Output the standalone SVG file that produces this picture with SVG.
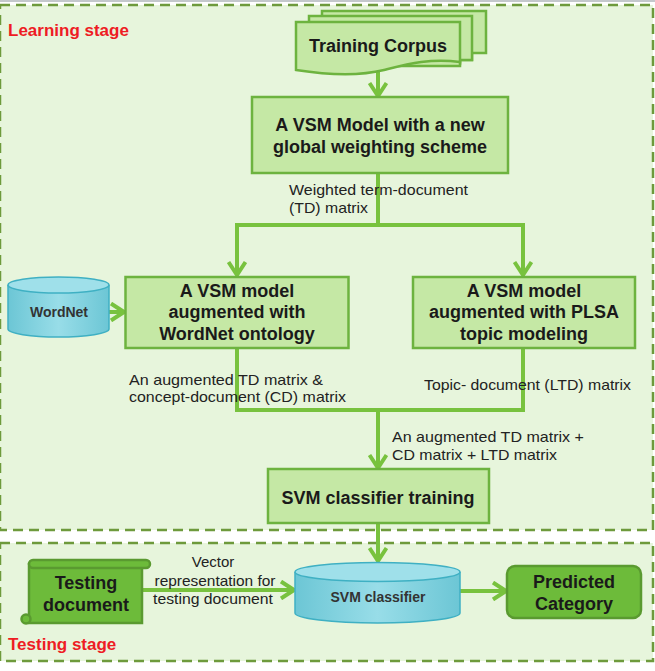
<svg xmlns="http://www.w3.org/2000/svg" width="655" height="671" viewBox="0 0 655 671">
<defs>
<style>
.stage{fill:#e7f5dc;stroke:#6e9a3c;stroke-width:2.5;stroke-dasharray:10 6}
.stagelbl{font-family:"Liberation Sans",Arial,sans-serif;font-weight:bold;font-size:17px;fill:#ee1c24}
.box{fill:#c5e8a5;stroke:#6db33f;stroke-width:2.5}
.dbox{fill:#6dbb3a;stroke:#5a9a30;stroke-width:2.5}
.bt{font-family:"Liberation Sans",Arial,sans-serif;font-weight:bold;font-size:18px;fill:#1a1a1a;text-anchor:middle}
.lbl{font-family:"Liberation Sans",Arial,sans-serif;font-size:15px;fill:#222}
.cyl{fill:url(#cg);stroke:#3fb0c3;stroke-width:1.5}
.cyltop{fill:#9fe0ea;stroke:#3fb0c3;stroke-width:1.5}
.ct{font-family:"Liberation Sans",Arial,sans-serif;font-weight:bold;font-size:14px;fill:#333;text-anchor:middle}
.conn{fill:none;stroke:#78c23e;stroke-width:4}
</style>
<linearGradient id="cg" x1="0" y1="0" x2="1" y2="0">
<stop offset="0" stop-color="#6cc6d5"/>
<stop offset="0.5" stop-color="#98dde8"/>
<stop offset="1" stop-color="#6cc6d5"/>
</linearGradient>
<marker id="ah" viewBox="0 0 20 20" refX="17" refY="10" markerWidth="20" markerHeight="20" markerUnits="userSpaceOnUse" orient="auto">
<path d="M4,1.5 L17,10 L4,18.5" fill="none" stroke="#78c23e" stroke-width="4"/>
</marker>
</defs>
<rect x="0" y="0" width="655" height="2" fill="#c4c8cc"/>
<g id="learning-stage">
<rect class="stage" x="0" y="5" width="653" height="525"/>
<text class="stagelbl" x="8" y="36">Learning stage</text>
</g>
<g id="testing-stage">
<rect class="stage" x="0" y="543" width="653" height="118"/>
<text class="stagelbl" x="8" y="650">Testing stage</text>
</g>
<g id="connectors">
<path class="conn" d="M378,70 V96" marker-end="url(#ah)"/>
<path class="conn" d="M378,173 V225"/>
<path class="conn" d="M380,225 H237 V275" marker-end="url(#ah)"/>
<path class="conn" d="M376,225 H523 V275" marker-end="url(#ah)"/>
<path class="conn" d="M109,312 H124" marker-end="url(#ah)"/>
<path class="conn" d="M237,348 V410 H380"/>
<path class="conn" d="M523,348 V410 H376"/>
<path class="conn" d="M378,410 V468" marker-end="url(#ah)"/>
<path class="conn" d="M378,523 V561" marker-end="url(#ah)"/>
<path class="conn" d="M142,590 H294" marker-end="url(#ah)"/>
<path class="conn" d="M460,591 H506" marker-end="url(#ah)"/>
<text class="lbl" x="289" y="195" textLength="179" lengthAdjust="spacingAndGlyphs">Weighted term-document</text>
<text class="lbl" x="289" y="213" textLength="79" lengthAdjust="spacingAndGlyphs">(TD) matrix</text>
<text class="lbl" x="129" y="385" textLength="194" lengthAdjust="spacingAndGlyphs">An augmented TD matrix &amp;</text>
<text class="lbl" x="129" y="402" textLength="217" lengthAdjust="spacingAndGlyphs">concept-document (CD) matrix</text>
<text class="lbl" x="424" y="390" textLength="207" lengthAdjust="spacingAndGlyphs">Topic- document (LTD) matrix</text>
<text class="lbl" x="392" y="442" textLength="192" lengthAdjust="spacingAndGlyphs">An augmented TD matrix +</text>
<text class="lbl" x="392" y="460" textLength="165" lengthAdjust="spacingAndGlyphs">CD matrix + LTD matrix</text>
<text class="lbl" x="213" y="567" text-anchor="middle">Vector</text>
<text class="lbl" x="215" y="586" text-anchor="middle" textLength="121" lengthAdjust="spacingAndGlyphs">representation for</text>
<text class="lbl" x="213" y="604" text-anchor="middle" textLength="120" lengthAdjust="spacingAndGlyphs">testing document</text>
</g>
<g id="training-corpus">
<path class="box" d="M322,11 H486 V53 H472 V60 H460 V64 H322 Z"/>
<path class="box" d="M309,16 H472 V60 H460 V66 H309 Z"/>
<path class="box" d="M296,22 H460 V62 C430,58 408,64 384,70 C356,77 322,74 296,70 Z"/>
<text class="bt" x="378" y="52">Training Corpus</text>
</g>
<g id="vsm-global">
<rect class="box" x="252" y="97" width="256" height="76"/>
<text class="bt" x="380" y="131">A VSM Model with a new</text>
<text class="bt" x="380" y="153">global weighting scheme</text>
</g>
<g id="wordnet">
<path class="cyl" d="M8,285 V329 A50.5,8 0 0 0 109,329 V285"/>
<ellipse class="cyltop" cx="58.5" cy="285" rx="50.5" ry="8"/>
<text class="ct" x="59" y="317">WordNet</text>
</g>
<g id="vsm-wordnet">
<rect class="box" x="125.5" y="277" width="223" height="71"/>
<text class="bt" x="237" y="297">A VSM model</text>
<text class="bt" x="237" y="318">augmented with</text>
<text class="bt" x="237" y="340">WordNet ontology</text>
</g>
<g id="vsm-plsa">
<rect class="box" x="413" y="277" width="222" height="71"/>
<text class="bt" x="524" y="297">A VSM model</text>
<text class="bt" x="524" y="318">augmented with PLSA</text>
<text class="bt" x="524" y="340">topic modeling</text>
</g>
<g id="svm-training">
<rect class="box" x="268" y="469" width="221" height="54"/>
<text class="bt" x="378" y="504">SVM classifier training</text>
</g>
<g id="testing-document">
<rect class="dbox" x="29" y="564" width="113" height="59"/>
<rect class="dbox" x="29" y="560" width="121" height="8" rx="4"/>
<circle class="dbox" cx="26" cy="619" r="4.5"/>
<text class="bt" x="86" y="589">Testing</text>
<text class="bt" x="86" y="611">document</text>
</g>
<g id="svm-classifier">
<path class="cyl" d="M295,572 V613 A82.5,10 0 0 0 460,613 V572"/>
<ellipse class="cyltop" cx="377.5" cy="572" rx="82.5" ry="9.5"/>
<text class="ct" x="378" y="602">SVM classifier</text>
</g>
<g id="predicted-category">
<rect class="dbox" x="507" y="566" width="134" height="52" rx="8"/>
<text class="bt" x="574" y="588">Predicted</text>
<text class="bt" x="574" y="610">Category</text>
</g>
</svg>
